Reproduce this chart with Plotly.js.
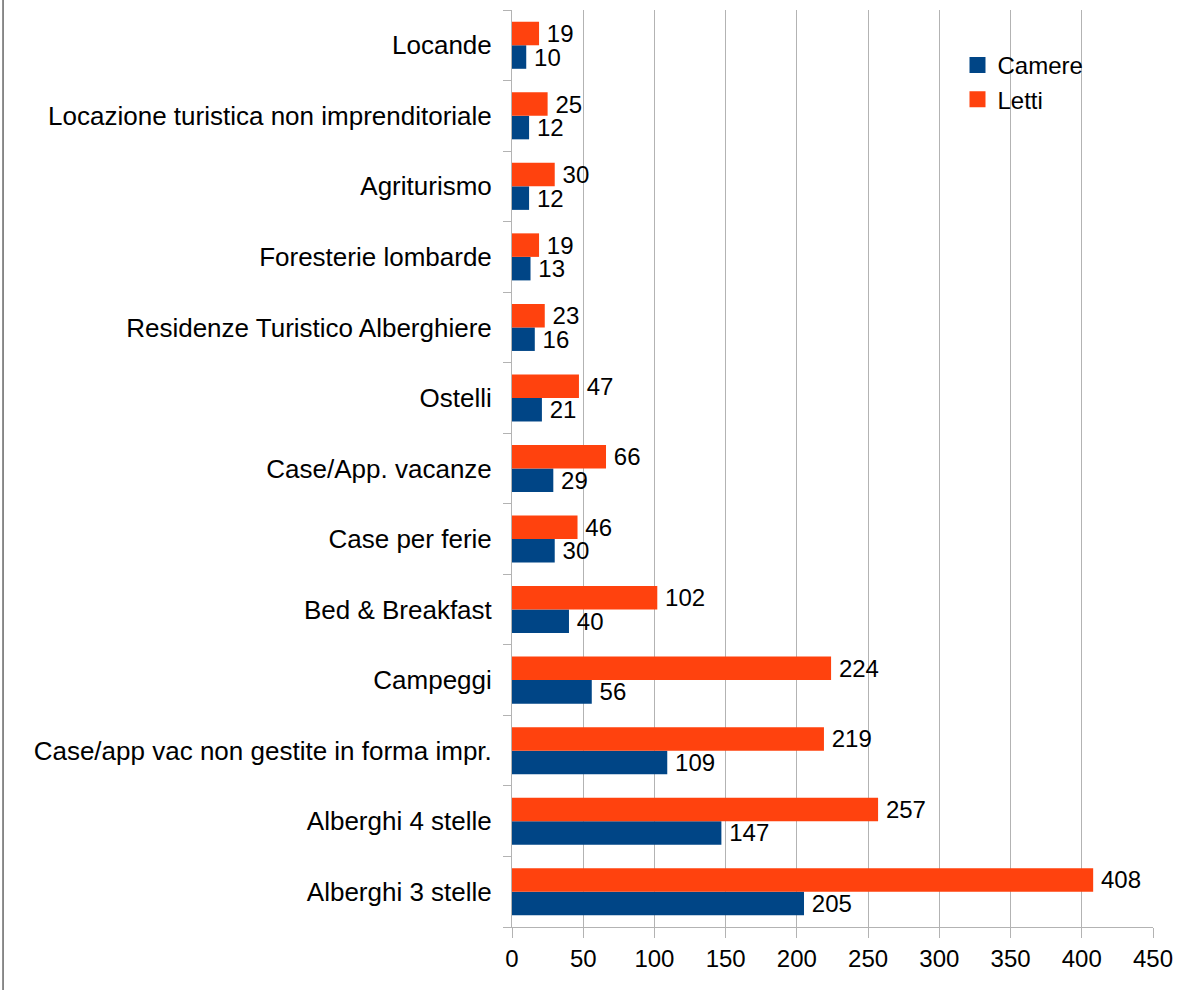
<!DOCTYPE html>
<html>
<head>
<meta charset="utf-8">
<script src="https://cdn.plot.ly/plotly-3.0.1.min.js"></script>
<style>
html,body{margin:0;padding:0;background:#fff;}
#chart{width:1196px;height:990px;}
</style>
</head>
<body>
<div id="chart"></div>
<script>
// Categories listed bottom to top
const categories = [
  "Alberghi 3 stelle",
  "Alberghi 4 stelle",
  "Case/app vac non gestite in forma impr.",
  "Campeggi",
  "Bed & Breakfast",
  "Case per ferie",
  "Case/App. vacanze",
  "Ostelli",
  "Residenze Turistico Alberghiere",
  "Foresterie lombarde",
  "Agriturismo",
  "Locazione turistica non imprenditoriale",
  "Locande"
];
const camere = [205, 147, 109, 56, 40, 30, 29, 21, 16, 13, 12, 12, 10];
const letti  = [408, 257, 219, 224, 102, 46, 66, 47, 23, 19, 30, 25, 19];
const xTicks = [0, 50, 100, 150, 200, 250, 300, 350, 400, 450];
const seriesNames = ["Camere", "Letti"];
const seriesColors = ["#004586", "#ff420e"];

const FONT = "Liberation Sans, Arial, sans-serif";

const barTrace = (name, vals, color) => ({
  type: "bar", orientation: "h", name: name,
  y: categories, x: vals,
  marker: {color: color},
  text: vals.map(v => "\u2009" + v), textposition: "outside",
  textfont: {family: FONT, size: 24, color: "#000"},
  constraintext: "none", cliponaxis: false, hoverinfo: "x+y",
  showlegend: false, legendgroup: name
});
const legendTrace = (name, color) => ({
  type: "scatter", mode: "markers", name: name,
  x: [null], y: [null],
  marker: {symbol: "square", size: 16, color: color},
  showlegend: true, legendgroup: name, hoverinfo: "skip"
});

const traces = [
  barTrace(seriesNames[0], camere, seriesColors[0]),
  barTrace(seriesNames[1], letti, seriesColors[1]),
  legendTrace(seriesNames[0], seriesColors[0]),
  legendTrace(seriesNames[1], seriesColors[1])
];

const layout = {
  width: 1196, height: 990,
  margin: {l: 512, r: 43, t: 10, b: 63, pad: 0},
  paper_bgcolor: "#fff", plot_bgcolor: "#fff",
  font: {family: FONT, size: 24, color: "#000"},
  barmode: "group", bargap: 0.333, bargroupgap: 0,
  showlegend: true,
  legend: {
    x: 0.695, y: 0.964, xanchor: "left", yanchor: "top",
    bgcolor: "rgba(0,0,0,0)", borderwidth: 0,
    font: {family: FONT, size: 24, color: "#000"},
    traceorder: "normal", tracegroupgap: 0, itemsizing: "trace"
  },
  xaxis: {
    range: [0, 450], tickvals: xTicks, ticktext: xTicks.map(String),
    showgrid: true, gridcolor: "#b3b3b3", gridwidth: 1,
    zeroline: false, showline: true, linecolor: "#b3b3b3", linewidth: 1,
    ticks: "outside", ticklen: 10, tickcolor: "#b3b3b3",
    tickfont: {family: FONT, size: 24, color: "#000"}
  },
  yaxis: {
    type: "category", categoryorder: "array", categoryarray: categories,
    range: [-0.5, categories.length - 0.5],
    showgrid: false, zeroline: false,
    showline: true, linecolor: "#b3b3b3", linewidth: 1,
    ticks: "outside", ticklen: 8, tickcolor: "#b3b3b3", tickson: "boundaries",
    ticklabelstandoff: 14,
    tickfont: {family: FONT, size: 26, color: "#000"}
  },
  shapes: [
    {type: "line", xref: "paper", yref: "paper",
     x0: -0.794, x1: -0.794, y0: -0.08, y1: 1.02,
     line: {color: "#666", width: 1.5}}
  ]
};

Plotly.newPlot("chart", traces, layout, {displayModeBar: false, staticPlot: true});
</script>
</body>
</html>
